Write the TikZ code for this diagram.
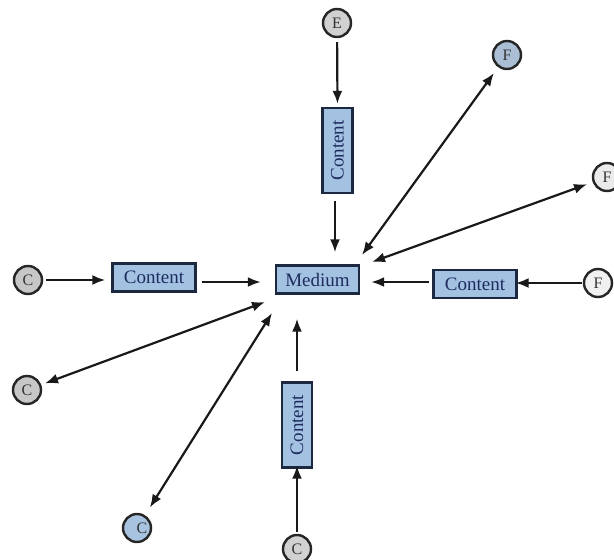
\documentclass[tikz,border=0pt]{standalone}
\usepackage{fontspec}
\setmainfont{Liberation Serif}
\usetikzlibrary{arrows.meta,calc}
\definecolor{boxfill}{HTML}{A3C2E2}
\definecolor{boxline}{HTML}{1C2840}
\definecolor{boxtext}{HTML}{1E2C5E}
\tikzset{
  cbox/.style={draw=boxline, line width=2.4pt, fill=boxfill, text=boxtext,
    inner sep=0pt, font=\fontsize{19}{21}\selectfont},
  hbox/.style={cbox, minimum width=83pt, minimum height=28pt},
  vbox/.style={cbox, minimum width=30pt, minimum height=85pt},
  actor/.style={circle, draw=black!85, line width=2.4pt, minimum size=28pt,
    inner sep=0pt, font=\fontsize{16}{17}\selectfont, text=black!80},
  tip/.style={Latex[length=13pt,width=10pt]},
  link/.style={line width=2.2pt, black!90, -{Latex[length=13pt,width=10pt]}},
  dlink/.style={line width=2.2pt, black!90, {Latex[length=13pt,width=10pt]}-{Latex[length=13pt,width=10pt]}}
}
\begin{document}
\begin{tikzpicture}[x=1pt,y=-1pt]
\useasboundingbox (0,0) rectangle (614,560);
\fill[white] (0,0) rectangle (614,560);
% nodes
\node[hbox] (med) at (317.5,279.5) {Medium};
\node[vbox] (tbox) at (337.5,150.5) {\rotatebox{90}{Content}};
\node[hbox] (lbox) at (154,277.5) {Content};
\node[hbox] (rbox) at (475,284) {Content};
\node[vbox] (bbox) at (297,425) {\rotatebox{90}{Content}};
\node[actor, fill=black!18] (e) at (337,23) {E};
\node[actor, fill={rgb,255:red,170;green,190;blue,212}] (ftop) at (507,55) {F};
\node[actor, fill=black!8] (fright) at (607,177) {F};
\node[actor, fill=black!6] (fmid) at (598,283) {F};
\node[actor, fill=black!22] (cleft) at (28,280) {C};
\node[actor, fill=black!22] (clow) at (27,390) {C};
\node[actor, fill={rgb,255:red,168;green,195;blue,224}] (cblue) at (137,528) {\hspace*{10pt}C};
\node[actor, fill=black!18] (cbot) at (297,549) {C};
% free ends near the Medium box
\coordinate (m1) at (362,255);
\coordinate (m2) at (372,262);
\coordinate (m3) at (265,302);
\coordinate (m4) at (272,313);
% straight arrows
\draw[link, shorten <=4pt, shorten >=3pt] (e) -- (tbox.north);
\draw[link, shorten <=7pt, shorten >=12pt] (tbox.south -| 335,0) -- (med.north -| 335,0);
\draw[link, shorten <=3pt, shorten >=6pt] (cleft) -- (lbox.west |- cleft);
\draw[link, shorten <=5pt, shorten >=14pt] (lbox.east |- 0,282) -- (med.west |- 0,282);
\draw[link, shorten <=3pt, shorten >=11pt] (rbox.west |- 0,282) -- (med.east |- 0,282);
\draw[link, shorten <=1pt, shorten >=-2pt] (fmid) -- (rbox.east |- fmid);
\draw[link, shorten <=2pt, shorten >=-3pt] (cbot) -- (bbox.south);
\draw[link, shorten <=10pt, shorten >=24pt] (bbox.north) -- (med.south -| bbox.north);
% double arrows
\draw[dlink, shorten >=7pt] (m1) -- (ftop);
\draw[dlink, shorten >=6pt] (m2) -- (fright);
\draw[dlink, shorten >=4pt] (m3) -- (clow);
\draw[dlink, shorten >=9pt] (m4) -- (cblue);
\end{tikzpicture}
\end{document}
